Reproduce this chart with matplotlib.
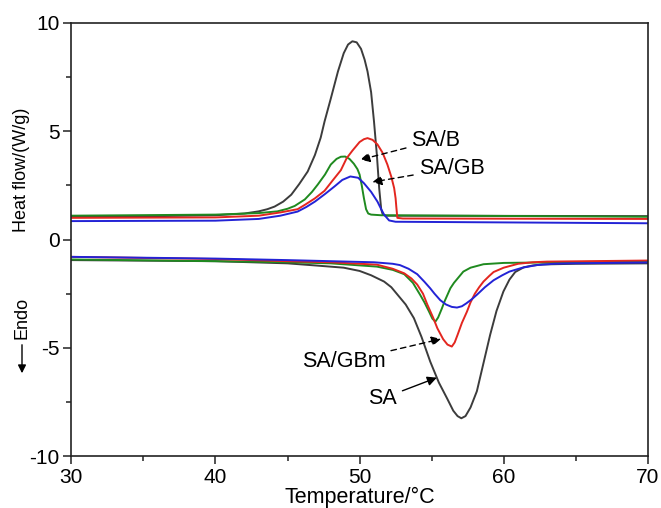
import matplotlib
matplotlib.use("Agg")
import matplotlib.pyplot as plt
from matplotlib.ticker import MultipleLocator

plt.rcParams['font.family'] = ['Liberation Sans', 'DejaVu Sans']
plt.rcParams['font.size'] = 13
plt.rcParams['axes.unicode_minus'] = False

# crystallization (cooling) curves, upper part
sa_cx = [30, 36, 40, 42, 43, 43.6, 44.1, 44.7, 45.26, 45.8, 46.4, 46.9, 47.3, 47.57, 48.0, 48.5, 48.9, 49.2, 49.5,
         49.8, 50.1, 50.35, 50.55, 50.8, 51.0, 51.2, 51.36, 51.5, 51.6, 51.8, 70]
sa_cy = [1.05, 1.08, 1.12, 1.2, 1.3, 1.4, 1.52, 1.75, 2.07, 2.55, 3.14, 3.9, 4.7, 5.45, 6.5, 7.76, 8.6, 9.0, 9.15,
         9.1, 8.8, 8.3, 7.76, 6.8, 5.45, 3.9, 2.37, 1.4, 1.17, 1.1, 1.08]

sab_cx = [30, 40, 43, 44.3, 45.0, 45.5, 46.2, 46.7, 47.1, 47.6, 48.0, 48.4, 48.7, 49.0, 49.3, 49.6, 49.85, 50.0,
          50.15, 50.3, 50.45, 50.6, 50.8, 51.5, 70]
sab_cy = [1.1, 1.15, 1.22, 1.3, 1.42, 1.55, 1.85, 2.2, 2.54, 3.0, 3.46, 3.72, 3.82, 3.83, 3.72, 3.5, 3.25, 3.0,
          2.5, 1.91, 1.4, 1.2, 1.15, 1.12, 1.05]

sagbm_cx = [30, 40, 43, 44.5, 45.7, 46.2, 46.9, 47.57, 48.1, 48.7, 49.1, 49.5, 50.0, 50.3, 50.55, 50.9, 51.24, 51.6,
            51.93, 52.2, 52.4, 52.5, 52.55, 52.62, 53, 70]
sagbm_cy = [1.0, 1.02, 1.1, 1.25, 1.4, 1.6, 1.9, 2.25, 2.7, 3.2, 3.75, 4.1, 4.5, 4.63, 4.68, 4.6, 4.39, 4.0,
            3.46, 2.9, 2.37, 1.9, 1.5, 1.0, 0.97, 0.95]

sagb_cx = [30, 40, 43, 44.5, 45.7, 46.3, 46.9, 47.6, 48.26, 48.8, 49.36, 49.9, 50.3, 50.8, 51.24, 51.5, 51.7, 52.05,
           52.5, 70]
sagb_cy = [0.85, 0.87, 0.95, 1.1, 1.29, 1.5, 1.75, 2.1, 2.45, 2.75, 2.91, 2.85, 2.6, 2.2, 1.75, 1.4, 1.15, 0.88,
           0.82, 0.75]

# melting (heating) curves, lower part
sa_mx = [30, 40, 45, 47, 48.9, 50, 50.8, 51.7, 52.2, 52.7, 53.2, 53.77, 54.3, 54.9, 55.5, 56.07, 56.5, 56.8, 57.06,
         57.35, 57.7, 58.14, 58.6, 59.06, 59.5, 59.98, 60.4, 60.8, 61.4, 62, 62.7, 65, 70]
sa_my = [-0.95, -1.0, -1.1, -1.2, -1.3, -1.45, -1.65, -1.94, -2.2, -2.6, -3.0, -3.63, -4.5, -5.63, -6.6, -7.33, -7.9,
         -8.15, -8.25, -8.15, -7.75, -7.0, -5.7, -4.4, -3.3, -2.4, -1.85, -1.5, -1.28, -1.2, -1.15, -1.12, -1.1]

sagbm_mx = [30, 40, 45, 48, 51.2, 52.3, 53.1, 53.6, 54.0, 54.4, 54.7, 55.1, 55.4, 55.8, 56.1, 56.4, 56.6, 56.8, 57.1,
            57.45, 57.7, 58.0, 58.3, 58.6, 59.0, 59.3, 60.0, 61, 62, 63, 70]
sagbm_my = [-0.8, -0.9, -1.0, -1.05, -1.16, -1.35, -1.56, -1.8, -2.08, -2.5, -3.0, -3.6, -4.1, -4.6, -4.85, -4.94,
            -4.75, -4.4, -3.85, -3.33, -2.9, -2.5, -2.2, -1.94, -1.68, -1.5, -1.3, -1.12, -1.05, -1.02, -0.97]

sab_mx = [30, 40, 45, 48, 51.2, 52.3, 53.1, 53.7, 54.2, 54.5, 54.8, 55.05, 55.26, 55.45, 55.7, 55.9, 56.1, 56.3,
          56.55, 56.8, 57.2, 57.7, 58.6, 60, 70]
sab_my = [-0.92, -1.0, -1.05, -1.1, -1.25, -1.4, -1.6, -2.0, -2.55, -2.9, -3.3, -3.65, -3.79, -3.6, -3.2, -2.85,
          -2.55, -2.25, -2.0, -1.8, -1.48, -1.3, -1.14, -1.08, -1.0]

sagb_mx = [30, 40, 45, 48, 51, 52.3, 52.8, 53.4, 54.0, 54.5, 54.9, 55.2, 55.6, 56.0, 56.4, 56.76, 57.1, 57.4, 57.8,
           58.14, 58.7, 59.3, 59.9, 60.4, 61.3, 62.3, 63.5, 64.6, 70]
sagb_my = [-0.8, -0.88, -0.95, -1.0, -1.05, -1.12, -1.18, -1.35, -1.6, -1.95, -2.25, -2.5, -2.8, -3.0, -3.11, -3.14,
           -3.08, -2.95, -2.75, -2.55, -2.2, -1.88, -1.65, -1.48, -1.3, -1.18, -1.12, -1.1, -1.06]

c_black = '#3c3c3c'
c_red = '#e3261f'
c_green = '#1f8a1f'
c_blue = '#2323d6'

fig = plt.figure(figsize=(6.61, 5.08), dpi=100)
ax = fig.add_axes([0.108, 0.102, 0.872, 0.853])

lw = 1.4
curves = [
    (sa_cx, sa_cy, c_black), (sa_mx, sa_my, c_black),
    (sab_cx, sab_cy, c_green), (sab_mx, sab_my, c_green),
    (sagbm_cx, sagbm_cy, c_red), (sagbm_mx, sagbm_my, c_red),
    (sagb_cx, sagb_cy, c_blue), (sagb_mx, sagb_my, c_blue),
]
for xs, ys, c in curves:
    ax.plot(xs, ys, color=c, lw=lw, solid_joinstyle='round')

ax.set_xlim(30, 70)
ax.set_ylim(-10, 10)
ax.xaxis.set_major_locator(MultipleLocator(10))
ax.xaxis.set_minor_locator(MultipleLocator(5))
ax.yaxis.set_major_locator(MultipleLocator(5))
ax.yaxis.set_minor_locator(MultipleLocator(2.5))
ax.tick_params(which='both', direction='out', top=False, right=False, color='#222222', width=1.1)
ax.tick_params(which='major', length=6, labelsize=15, pad=2.5)
ax.tick_params(which='minor', length=3.5)
for s in ax.spines.values():
    s.set_color('#222222')
    s.set_linewidth(1.2)

ax.set_xlabel('Temperature/\u00b0C', fontsize=15.5, labelpad=0)

fig.text(22 / 661, 1 - 170 / 508, 'Heat flow/(W/g)', rotation=90, ha='center', va='center', fontsize=13)
fig.text(22 / 661, 1 - 318 / 508, 'Endo', rotation=90, ha='center', va='center', fontsize=13)
ax.annotate('', xy=(22 / 661, 1 - 376 / 508), xytext=(22 / 661, 1 - 342 / 508),
            xycoords='figure fraction', textcoords='figure fraction',
            arrowprops=dict(arrowstyle='-|>', color='black', lw=1.0, mutation_scale=12))

fs = 15.5
dash = dict(arrowstyle='-|>', color='black', lw=1.0, linestyle=(0, (4, 3)), mutation_scale=14)
solid = dict(arrowstyle='-|>', color='black', lw=1.0, mutation_scale=14)
ax.annotate('SA/B', xy=(49.86, 3.65), xytext=(53.6, 4.58), va='center', ha='left', fontsize=fs, arrowprops=dash)
ax.annotate('SA/GB', xy=(50.69, 2.63), xytext=(54.1, 3.28), va='center', ha='left', fontsize=fs, arrowprops=dash)
ax.annotate('SA/GBm', xy=(55.84, -4.56), xytext=(51.8, -5.64), va='center', ha='right', fontsize=fs, arrowprops=dash)
ax.annotate('SA', xy=(55.54, -6.33), xytext=(52.6, -7.33), va='center', ha='right', fontsize=fs, arrowprops=solid)

fig.savefig('out.png', dpi=100)
